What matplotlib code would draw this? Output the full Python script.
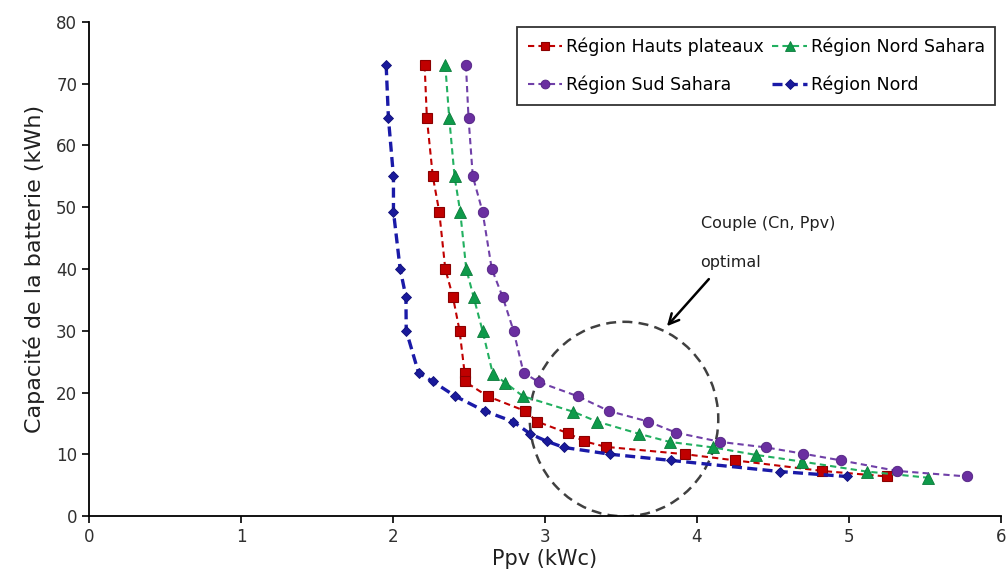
import matplotlib
matplotlib.use("Agg")
import matplotlib.pyplot as plt
from matplotlib.patches import Ellipse

# Capacity values (kWh) and Ppv values (kWc) per region
ppv_nord = [1.955, 1.970, 2.003, 2.003, 2.047, 2.085, 2.087, 2.168, 2.26, 2.41,
            2.602, 2.789, 2.903, 3.012, 3.125, 3.43, 3.83, 4.545, 4.985]
cap_nord = [73, 64.4, 55, 49.3, 40, 35.5, 30, 23.2, 21.8, 19.4,
            17, 15.3, 13.3, 12.1, 11.1, 10.0, 9.0, 7.2, 6.4]

ppv_hp = [2.208, 2.223, 2.262, 2.304, 2.344, 2.394, 2.438, 2.471, 2.471, 2.622,
          2.870, 2.947, 3.152, 3.258, 3.40, 3.924, 4.253, 4.823, 5.251]
cap_hp = [73, 64.4, 55, 49.3, 40, 35.5, 30, 23.2, 21.8, 19.4,
          17, 15.3, 13.4, 12.1, 11.2, 10.0, 9.0, 7.3, 6.4]

ppv_ns = [2.344, 2.370, 2.405, 2.442, 2.482, 2.530, 2.589, 2.657, 2.738, 2.855,
          3.184, 3.342, 3.62, 3.82, 4.107, 4.387, 4.693, 5.116, 5.52]
cap_ns = [73, 64.4, 55, 49.3, 40, 35.5, 30, 23.0, 21.6, 19.4,
          16.9, 15.3, 13.3, 12.0, 11.1, 9.9, 8.8, 7.2, 6.2]

ppv_ss = [2.48, 2.497, 2.525, 2.589, 2.650, 2.721, 2.793, 2.859, 2.958, 3.215,
          3.421, 3.678, 3.862, 4.154, 4.456, 4.696, 4.948, 5.316, 5.778]
cap_ss = [73, 64.4, 55, 49.3, 40, 35.5, 30, 23.2, 21.7, 19.4,
          17.0, 15.3, 13.5, 12.0, 11.1, 10.1, 9.0, 7.3, 6.4]

labels = ["Région Hauts plateaux", "Région Nord Sahara", "Région Sud Sahara", "Région Nord"]
x_ticks = [0, 1, 2, 3, 4, 5, 6]
y_ticks = [0, 10, 20, 30, 40, 50, 60, 70, 80]

plt.rcParams['font.family'] = ['DejaVu Sans']

fig = plt.figure(figsize=(10.06, 5.85), dpi=100)
ax = fig.add_axes([89/1006, 69/585, (1001-89)/1006, (516-22)/585])

h_hp, = ax.plot(ppv_hp, cap_hp, linestyle=(0, (3, 2)), color="#C00000", lw=1.5,
                marker="s", markersize=7.5, markerfacecolor="#C00000",
                markeredgecolor="#8B0000", markeredgewidth=0.8, label=labels[0])
h_ns, = ax.plot(ppv_ns, cap_ns, linestyle=(0, (3, 2)), color="#22B060", lw=1.5,
                marker="^", markersize=8, markerfacecolor="#0E9A4A",
                markeredgecolor="#0A7A3A", markeredgewidth=0.6, label=labels[1])
h_ss, = ax.plot(ppv_ss, cap_ss, linestyle=(0, (3, 2)), color="#7040A8", lw=1.5,
                marker="o", markersize=7.5, markerfacecolor="#6A2FA0",
                markeredgecolor="#4F2080", markeredgewidth=0.6, label=labels[2])
h_n, = ax.plot(ppv_nord, cap_nord, linestyle=(0, (3, 1.6)), color="#1A1AA8", lw=2.4,
               marker="D", markersize=5.5, markerfacecolor="#1A1A9A",
               markeredgecolor="#10107A", markeredgewidth=0.6, label=labels[3])

ell = Ellipse((3.52, 15.7), width=1.24, height=31.5, fill=False,
              edgecolor="#404040", linestyle=(0, (4, 2.5)), lw=1.8, zorder=1)
ax.add_patch(ell)

ax.text(4.47, 47.3, "Couple (Cn, Ppv)", fontsize=11.5, ha="center", va="center", color="#202020")
ax.text(4.22, 41.1, "optimal", fontsize=11.5, ha="center", va="center", color="#202020")
ax.annotate("", xy=(3.79, 30.4), xytext=(4.09, 38.7),
            arrowprops=dict(arrowstyle="->", color="black", lw=1.8, mutation_scale=18))

ax.set_xlim(0, 6)
ax.set_ylim(0, 80)
ax.set_xticks(x_ticks)
ax.set_yticks(y_ticks)
ax.tick_params(axis="both", direction="out", length=5, width=1.2, labelsize=12,
               labelcolor="#303030", color="black")
for s in ["top", "right"]:
    ax.spines[s].set_visible(False)
for s in ["left", "bottom"]:
    ax.spines[s].set_linewidth(1.3)
    ax.spines[s].set_color("black")

ax.set_xlabel("Ppv (kWc)", fontsize=15, color="#202020", labelpad=2)
ax.set_ylabel("Capacité de la batterie (kWh)", fontsize=16, color="#202020", labelpad=8)

leg = ax.legend(handles=[h_hp, h_ss, h_ns, h_n], ncol=2, loc="upper right",
                bbox_to_anchor=(1.003, 1.008), fontsize=12.5, frameon=True, fancybox=False,
                edgecolor="black", handlelength=2.0, handletextpad=0.2,
                columnspacing=0.5, borderpad=0.6, labelspacing=1.15, markerscale=0.85)
leg.get_frame().set_linewidth(1.3)

fig.savefig("out.png", dpi=100)
